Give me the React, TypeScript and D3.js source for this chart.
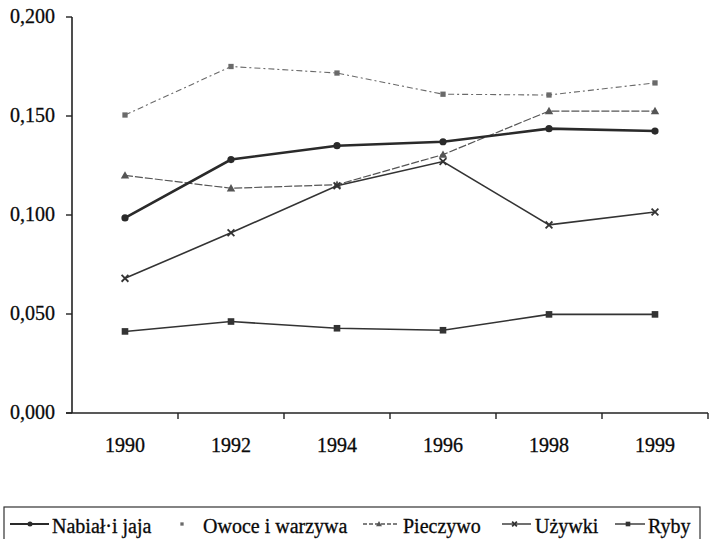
import React from "react";
import * as d3 from "d3";

const years = ["1990", "1992", "1994", "1996", "1998", "1999"];
const nabial = [0.0985, 0.128, 0.135, 0.137, 0.1436, 0.1424];
const owoce = [0.1505, 0.175, 0.1717, 0.161, 0.1606, 0.1667];
const pieczywo = [0.12, 0.1135, 0.1153, 0.1305, 0.1525, 0.1525];
const uzywki = [0.068, 0.091, 0.1148, 0.127, 0.095, 0.1015];
const ryby = [0.0412, 0.0462, 0.0428, 0.0418, 0.0498, 0.0498];
const yTicks = [0, 0.05, 0.1, 0.15, 0.2];
const seriesNames = ["Nabiał·i jaja", "Owoce i warzywa", "Pieczywo", "Używki", "Ryby"];

type Style = { color: string; width: number; dash: string; marker: string };
const styles: Style[] = [
  { color: "#2a2a2a", width: 2.6, dash: "", marker: "circle" },
  { color: "#6a6a6a", width: 1.1, dash: "6,3,2,3", marker: "square" },
  { color: "#555", width: 1.2, dash: "8,2", marker: "triangle" },
  { color: "#333", width: 1.6, dash: "", marker: "x" },
  { color: "#333", width: 1.6, dash: "", marker: "square" },
];

const FONT = "'Liberation Serif', 'Times New Roman', Times, serif";

function Marker({ type, x, y, color, size = 1 }: { type: string; x: number; y: number; color: string; size?: number }) {
  if (type === "circle") return <circle cx={x} cy={y} r={3.6 * size} fill={color} />;
  if (type === "square") return <rect x={x - 3.3 * size} y={y - 3.3 * size} width={6.6 * size} height={6.6 * size} fill={color} />;
  if (type === "triangle") {
    const s = 4.2 * size;
    return <path d={`M${x},${y - s} L${x + s},${y + s * 0.75} L${x - s},${y + s * 0.75} Z`} fill={color} />;
  }
  const s = 3.4 * size;
  return (
    <g stroke={color} strokeWidth={1.8}>
      <line x1={x - s} y1={y - s} x2={x + s} y2={y + s} />
      <line x1={x - s} y1={y + s} x2={x + s} y2={y - s} />
    </g>
  );
}

export default function App() {
  const W = 709, H = 539;
  const left = 72, right = 708, top = 17, bottom = 413;
  const x = d3.scaleBand<string>().domain(years).range([left, right]);
  const y = d3.scaleLinear().domain([0, 0.2]).range([bottom, top]);
  const data = [nabial, owoce, pieczywo, uzywki, ryby];
  const cx = (i: number) => (x(years[i]) as number) + x.bandwidth() / 2;
  const line = d3
    .line<number>()
    .x((_, i) => cx(i))
    .y((v) => y(v));
  const fmt = (v: number) => d3.format(".3f")(v).replace(".", ",");
  const order = [1, 2, 3, 4, 0];

  // legend layout: line start, line end, text start
  const legendItems = [
    { l0: 10, l1: 49, tx: 52 },
    { l0: 182, l1: 182, tx: 203 },
    { l0: 363, l1: 399, tx: 403 },
    { l0: 502, l1: 531, tx: 535 },
    { l0: 615, l1: 645, tx: 648 },
  ];
  const textStyle = { fontFamily: FONT };
  const txt = { fill: "#0a0a0a", stroke: "#0a0a0a", strokeWidth: 0.3 };

  return (
    <svg width={W} height={H} style={{ position: "absolute", left: 0, top: 0, background: "#fff" }}>
      <rect width={W} height={H} fill="#fff" />
      {/* axes */}
      <line x1={left} y1={top} x2={left} y2={bottom} stroke="#222" strokeWidth={1.6} />
      <line x1={left - 6} y1={bottom} x2={right} y2={bottom} stroke="#222" strokeWidth={1.6} />
      {yTicks.map((t) => (
        <g key={t}>
          <line x1={left - 6} x2={left} y1={y(t)} y2={y(t)} stroke="#222" strokeWidth={1.4} />
          <text x={55} y={y(t) + 6} textAnchor="end" fontSize={20} {...txt} style={textStyle}>
            {fmt(t)}
          </text>
        </g>
      ))}
      {years.map((yr, i) => (
        <g key={yr}>
          {i > 0 && (
            <line x1={x(yr)} x2={x(yr)} y1={bottom} y2={bottom + 6} stroke="#222" strokeWidth={1.4} />
          )}
          <text x={cx(i)} y={452} textAnchor="middle" fontSize={20} {...txt} style={textStyle}>
            {yr}
          </text>
        </g>
      ))}
      <line x1={right} x2={right} y1={bottom} y2={bottom + 6} stroke="#222" strokeWidth={1.4} />
      {/* series */}
      {order.map((si) => {
        const st = styles[si];
        return (
          <g key={si}>
            <path d={line(data[si]) || ""} fill="none" stroke={st.color} strokeWidth={st.width} strokeDasharray={st.dash} />
            {data[si].map((v, i) => (
              <Marker key={i} type={st.marker} x={cx(i)} y={y(v)} color={st.color} size={si === 1 ? 0.8 : 1} />
            ))}
          </g>
        );
      })}
      {/* legend */}
      <rect x={4} y={507} width={696} height={40} fill="none" stroke="#333" strokeWidth={1.2} />
      {seriesNames.map((name, i) => {
        const st = styles[i];
        const it = legendItems[i];
        const ly = 524;
        return (
          <g key={name}>
            {i !== 1 && (
              <line x1={it.l0} x2={it.l1} y1={ly} y2={ly} stroke={st.color} strokeWidth={i === 0 ? 2 : 1.4} strokeDasharray={i === 2 ? "4,2" : ""} />
            )}
            <Marker type={st.marker} x={i === 1 ? 182 : i === 0 ? 30 : (it.l0 + it.l1) / 2 - 2} y={ly} color={st.color} size={i === 1 ? 0.5 : 0.7} />
            <text x={it.tx} y={533} fontSize={20} {...txt} style={textStyle}>
              {name}
            </text>
          </g>
        );
      })}
    </svg>
  );
}
